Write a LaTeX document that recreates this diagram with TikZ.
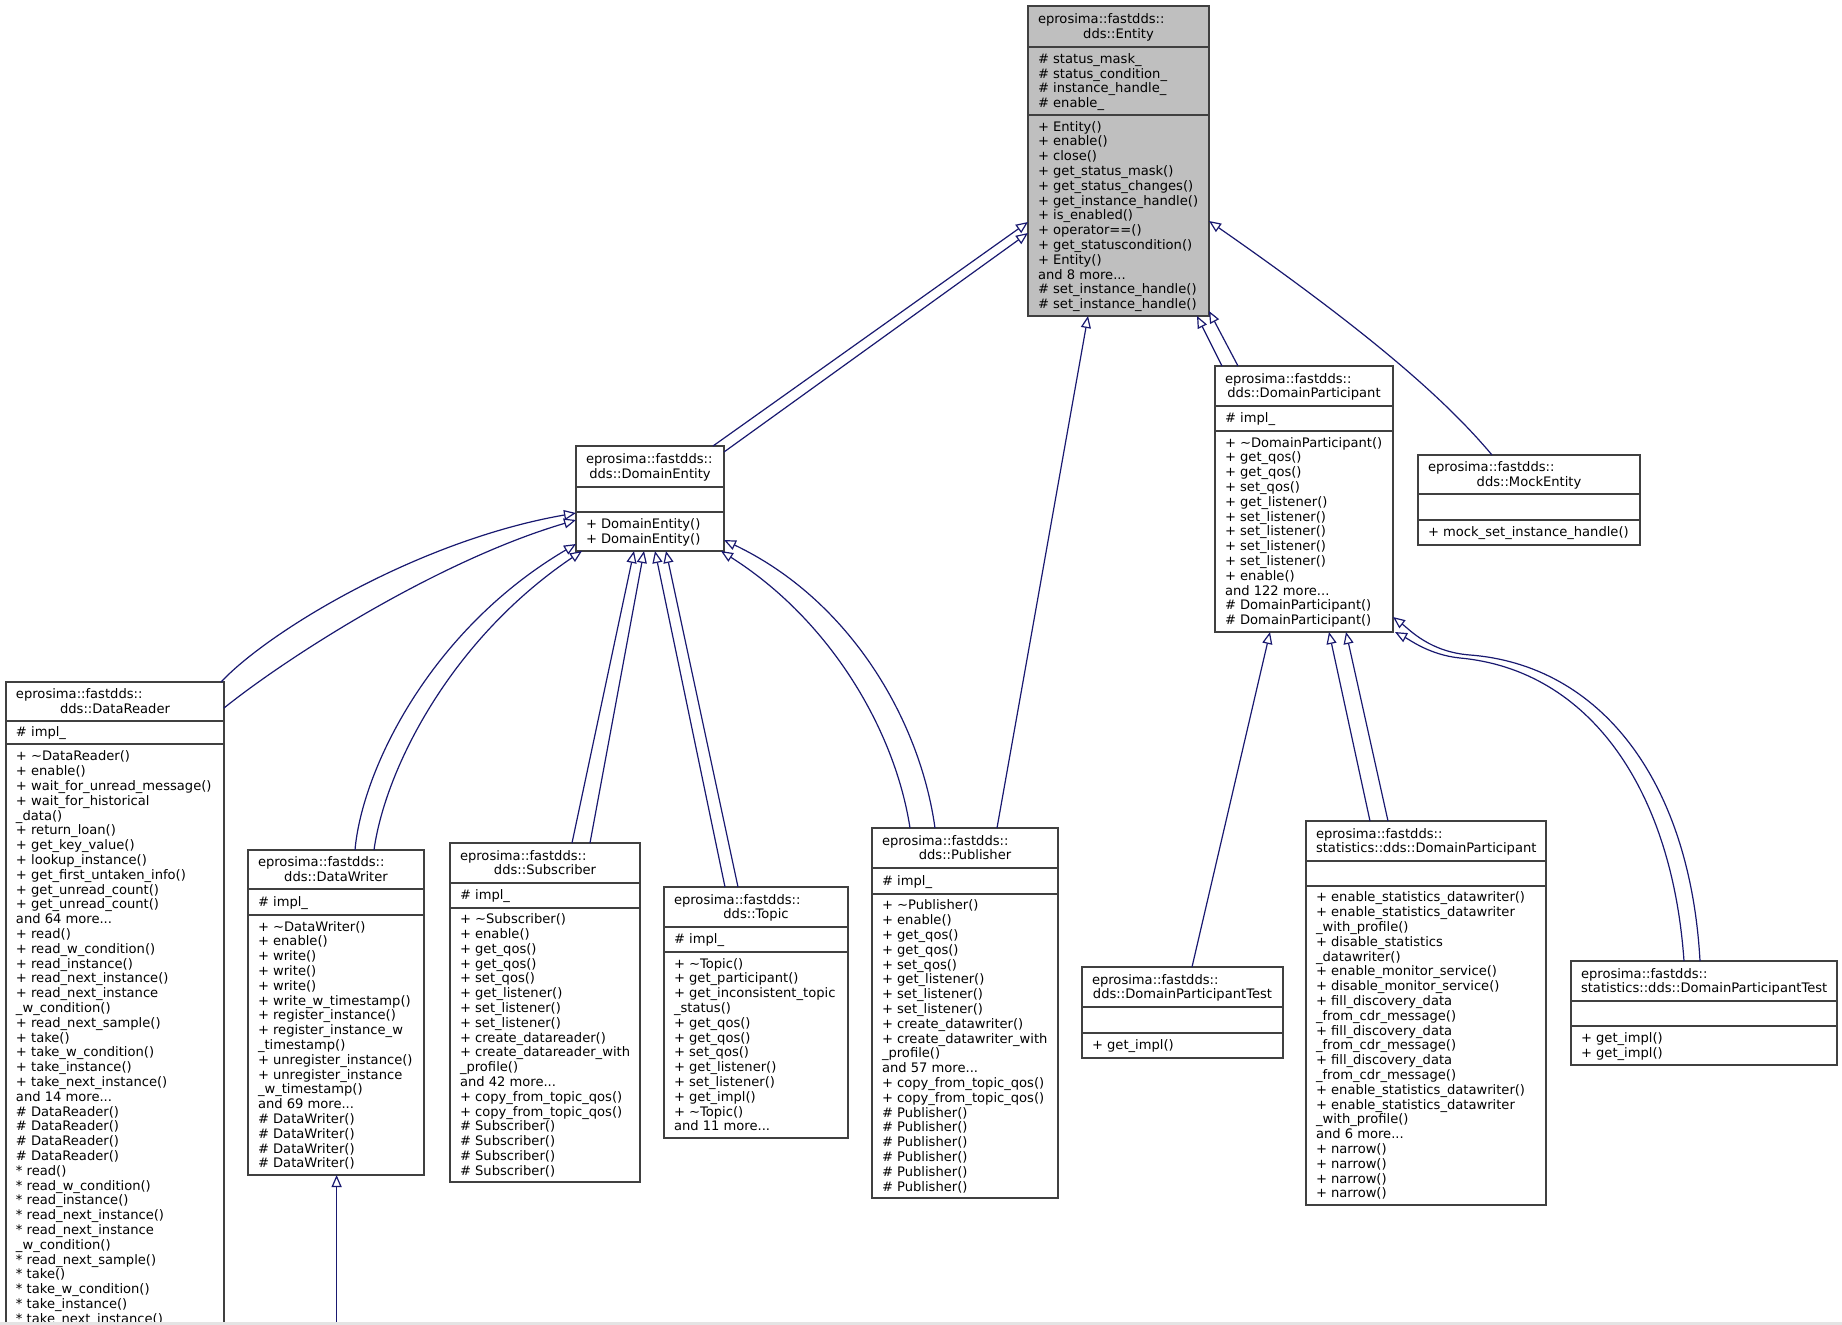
\documentclass[tikz,border=0pt]{standalone}
\usepackage{fontspec}
\setmainfont{DejaVu Sans}
\usetikzlibrary{arrows.meta,calc}
\definecolor{midnight}{HTML}{191970}
\definecolor{boxgray}{HTML}{BFBFBF}
\definecolor{border}{HTML}{404040}
\definecolor{edgegray}{HTML}{E4E4E4}
\newcommand\NL{\\\strut}
\tikzset{
  umlnode/.style={draw=border, line width=1.3pt, inner sep=0pt, outer sep=0pt},
  umlsep/.style={draw=border, line width=1.3pt},
  umltext/.style={font=\fontsize{13.1}{14.8}\selectfont, inner sep=0pt, outer sep=0pt, text=black},
  inh/.style={draw=midnight, line width=1.2pt, -{Triangle[open, length=12pt, width=10pt]}},
}
\newcommand\umlclass[9]{%
  \xdef\cN{#1}\xdef\cL{#2}\xdef\cT{#3}\xdef\cR{#4}\xdef\cB{#5}\xdef\cSa{#6}\xdef\cSb{#7}%
  \pgfmathsetmacro\cW{#4-#2}\pgfmathsetmacro\cH{#5-#3}%
  \node[umlnode, fill=#8, minimum width=\cW pt, minimum height=\cH pt, anchor=north west] (#1) at (#2,#3) {};
  \draw[umlsep] (#2,#6) -- (#4,#6) (#2,#7) -- (#4,#7);
  \pgfmathsetmacro\cTW{#4-#2-20}\pgfmathsetmacro\cX{(#2+#4)/2}\pgfmathsetmacro\cY{(#3+#6)/2+1.5}%
  \node[umltext, align=center, text width=\cTW pt] (#1-t) at (\cX,\cY) {\makebox[\hsize][l]{\strut eprosima::fastdds::}\\\strut #9};
}
\newcommand\umlattr[1]{%
  \pgfmathsetmacro\cX{\cL+10}\pgfmathsetmacro\cY{(\cSa+\cSb)/2+1.5}%
  \node[umltext, align=left, anchor=west] (\cN-a) at (\cX,\cY) {#1};}
\newcommand\umlmeth[1]{%
  \pgfmathsetmacro\cX{\cL+10}\pgfmathsetmacro\cY{(\cSb+\cB)/2+1.5}%
  \node[umltext, align=left, anchor=west] (\cN-m) at (\cX,\cY) {#1};}
\newcommand\umlmethtop[1]{%
  \pgfmathsetmacro\cX{\cL+10}\pgfmathsetmacro\cY{\cSb+6.5}%
  \node[umltext, align=left, anchor=north west] (\cN-m) at (\cX,\cY) {#1};}
\newcommand\tl{\textasciitilde}

\begin{document}
\begin{tikzpicture}[x=1pt, y=-1pt]
\useasboundingbox (0,0) rectangle (1842,1325);
\fill[white] (0,0) rectangle (1842,1325);
\clip (0,0) rectangle (1842,1325);

% ---------------- Entity
\umlclass{entity}{1028}{6}{1209}{316}{47}{115}{boxgray}{dds::Entity}
\umlattr{\strut\# status\_mask\_\NL\# status\_condition\_\NL\# instance\_handle\_\NL\# enable\_}
\umlmeth{\strut + Entity()\NL + enable()\NL + close()\NL + get\_status\_mask()\NL + get\_status\_changes()\NL + get\_instance\_handle()\NL + is\_enabled()\NL + operator==()\NL + get\_statuscondition()\NL + Entity()\NL and 8 more...\NL\# set\_instance\_handle()\NL\# set\_instance\_handle()}

% ---------------- DomainEntity
\umlclass{de}{576}{446}{724}{551}{487}{512}{white}{dds::DomainEntity}
\umlmeth{\strut + DomainEntity()\NL + DomainEntity()}

% ---------------- DataReader
\umlclass{dr}{6}{682}{224}{1400}{721}{744}{white}{dds::DataReader}
\umlattr{\strut\# impl\_}
\umlmethtop{\strut + \tl DataReader()\NL + enable()\NL + wait\_for\_unread\_message()\NL + wait\_for\_historical\NL \_data()\NL + return\_loan()\NL + get\_key\_value()\NL + lookup\_instance()\NL + get\_first\_untaken\_info()\NL + get\_unread\_count()\NL + get\_unread\_count()\NL and 64 more...\NL + read()\NL + read\_w\_condition()\NL + read\_instance()\NL + read\_next\_instance()\NL + read\_next\_instance\NL \_w\_condition()\NL + read\_next\_sample()\NL + take()\NL + take\_w\_condition()\NL + take\_instance()\NL + take\_next\_instance()\NL and 14 more...\NL\# DataReader()\NL\# DataReader()\NL\# DataReader()\NL\# DataReader()\NL * read()\NL * read\_w\_condition()\NL * read\_instance()\NL * read\_next\_instance()\NL * read\_next\_instance\NL \_w\_condition()\NL * read\_next\_sample()\NL * take()\NL * take\_w\_condition()\NL * take\_instance()\NL * take\_next\_instance()}

% ---------------- DataWriter
\umlclass{dw}{248}{850}{424}{1175}{889}{915}{white}{dds::DataWriter}
\umlattr{\strut\# impl\_}
\umlmeth{\strut + \tl DataWriter()\NL + enable()\NL + write()\NL + write()\NL + write()\NL + write\_w\_timestamp()\NL + register\_instance()\NL + register\_instance\_w\NL \_timestamp()\NL + unregister\_instance()\NL + unregister\_instance\NL \_w\_timestamp()\NL and 69 more...\NL\# DataWriter()\NL\# DataWriter()\NL\# DataWriter()\NL\# DataWriter()}

% ---------------- Subscriber
\umlclass{sub}{450}{843}{640}{1182}{883}{908}{white}{dds::Subscriber}
\umlattr{\strut\# impl\_}
\umlmeth{\strut + \tl Subscriber()\NL + enable()\NL + get\_qos()\NL + get\_qos()\NL + set\_qos()\NL + get\_listener()\NL + set\_listener()\NL + set\_listener()\NL + create\_datareader()\NL + create\_datareader\_with\NL \_profile()\NL and 42 more...\NL + copy\_from\_topic\_qos()\NL + copy\_from\_topic\_qos()\NL\# Subscriber()\NL\# Subscriber()\NL\# Subscriber()\NL\# Subscriber()}

% ---------------- Topic
\umlclass{topic}{664}{887}{848}{1138}{927}{952}{white}{dds::Topic}
\umlattr{\strut\# impl\_}
\umlmeth{\strut + \tl Topic()\NL + get\_participant()\NL + get\_inconsistent\_topic\NL \_status()\NL + get\_qos()\NL + get\_qos()\NL + set\_qos()\NL + get\_listener()\NL + set\_listener()\NL + get\_impl()\NL + \tl Topic()\NL and 11 more...}

% ---------------- Publisher
\umlclass{pub}{872}{828}{1058}{1198}{868}{894}{white}{dds::Publisher}
\umlattr{\strut\# impl\_}
\umlmeth{\strut + \tl Publisher()\NL + enable()\NL + get\_qos()\NL + get\_qos()\NL + set\_qos()\NL + get\_listener()\NL + set\_listener()\NL + set\_listener()\NL + create\_datawriter()\NL + create\_datawriter\_with\NL \_profile()\NL and 57 more...\NL + copy\_from\_topic\_qos()\NL + copy\_from\_topic\_qos()\NL\# Publisher()\NL\# Publisher()\NL\# Publisher()\NL\# Publisher()\NL\# Publisher()\NL\# Publisher()}

% ---------------- DomainParticipant
\umlclass{dp}{1215}{366}{1393}{632}{406}{431}{white}{dds::DomainParticipant}
\umlattr{\strut\# impl\_}
\umlmeth{\strut + \tl DomainParticipant()\NL + get\_qos()\NL + get\_qos()\NL + set\_qos()\NL + get\_listener()\NL + set\_listener()\NL + set\_listener()\NL + set\_listener()\NL + set\_listener()\NL + enable()\NL and 122 more...\NL\# DomainParticipant()\NL\# DomainParticipant()}

% ---------------- MockEntity
\umlclass{mock}{1418}{455}{1640}{545}{494}{520}{white}{dds::MockEntity}
\umlmeth{\strut + mock\_set\_instance\_handle()}

% ---------------- DomainParticipantTest
\umlclass{dpt}{1082}{967}{1283}{1058}{1007}{1033}{white}{dds::DomainParticipantTest}
\umlmeth{\strut + get\_impl()}

% ---------------- statistics DomainParticipant
\umlclass{sdp}{1306}{821}{1546}{1205}{861}{886}{white}{statistics::dds::DomainParticipant}
\umlmeth{\strut + enable\_statistics\_datawriter()\NL + enable\_statistics\_datawriter\NL \_with\_profile()\NL + disable\_statistics\NL \_datawriter()\NL + enable\_monitor\_service()\NL + disable\_monitor\_service()\NL + fill\_discovery\_data\NL \_from\_cdr\_message()\NL + fill\_discovery\_data\NL \_from\_cdr\_message()\NL + fill\_discovery\_data\NL \_from\_cdr\_message()\NL + enable\_statistics\_datawriter()\NL + enable\_statistics\_datawriter\NL \_with\_profile()\NL and 6 more...\NL + narrow()\NL + narrow()\NL + narrow()\NL + narrow()}

% ---------------- statistics DomainParticipantTest
\umlclass{sdpt}{1571}{961}{1837}{1065}{1001}{1026}{white}{statistics::dds::DomainParticipantTest}
\umlmeth{\strut + get\_impl()\NL + get\_impl()}

% ================= connectors
\draw[inh] ($(de.north west)+(137,0)$) -- ($(entity.north west)+(0,216)$);
\draw[inh] ($(de.north east)+(0,6)$) -- ($(entity.north west)+(0,227)$);
\draw[inh] ($(pub.north west)+(125,0)$) -- ($(entity.south west)+(60,0)$);
\draw[inh] ($(dp.north west)+(7,0)$) -- ($(entity.south west)+(169,0)$);
\draw[inh] ($(dp.north west)+(23,0)$) -- ($(entity.south east)+(0,-5)$);
\draw[inh] ($(mock.north west)+(74,0)$) .. controls (1450,405) and (1380,340) .. ($(entity.north east)+(0,215)$);

\draw[inh] ($(dr.north east)+(-3,0)$) .. controls (270,630) and (420,540) .. ($(de.north west)+(0,67)$);
\draw[inh] ($(dr.north east)+(0,26)$) .. controls (290,655) and (440,560) .. ($(de.north west)+(0,74)$);
\draw[inh] ($(dw.north west)+(107,0)$) .. controls (362,770) and (430,630) .. ($(de.south west)+(0,-7)$);
\draw[inh] ($(dw.north west)+(126,0)$) .. controls (385,770) and (450,640) .. ($(de.south west)+(6,0)$);
\draw[inh] ($(sub.north west)+(122,0)$) -- ($(de.south west)+(58,0)$);
\draw[inh] ($(sub.north west)+(140,0)$) -- ($(de.south west)+(68,0)$);
\draw[inh] ($(topic.north west)+(61,0)$) -- ($(de.south west)+(79,0)$);
\draw[inh] ($(topic.north west)+(74,0)$) -- ($(de.south west)+(90,0)$);
\draw[inh] ($(pub.north west)+(38,0)$) .. controls (895,730) and (830,620) .. ($(de.south east)+(-3,0)$);
\draw[inh] ($(pub.north west)+(63,0)$) .. controls (920,720) and (850,600) .. ($(de.south east)+(0,-11)$);

\coordinate (dwchild) at (336.6,1340);
\draw[inh] (dwchild) -- ($(dw.south west)+(88.6,0)$);

\draw[inh] ($(dpt.north west)+(110,0)$) -- ($(dp.south west)+(55,0)$);
\draw[inh] ($(sdp.north west)+(64,0)$) -- ($(dp.south west)+(114,0)$);
\draw[inh] ($(sdp.north west)+(82,0)$) -- ($(dp.south west)+(131,0)$);
\draw[inh] ($(sdpt.north west)+(129,0)$) .. controls (1690,780) and (1600,665) .. (1470,655) .. controls (1430,652) and (1410,630) .. ($(dp.south east)+(0,-15)$);
\draw[inh] ($(sdpt.north west)+(113,0)$) .. controls (1672,790) and (1590,670) .. (1460,658) .. controls (1430,655) and (1410,640) .. ($(dp.south east)+(2,0)$);

% faint lower edge of the cropped image
\fill[edgegray] (0,1322) rectangle (1842,1325);
\end{tikzpicture}
\end{document}
